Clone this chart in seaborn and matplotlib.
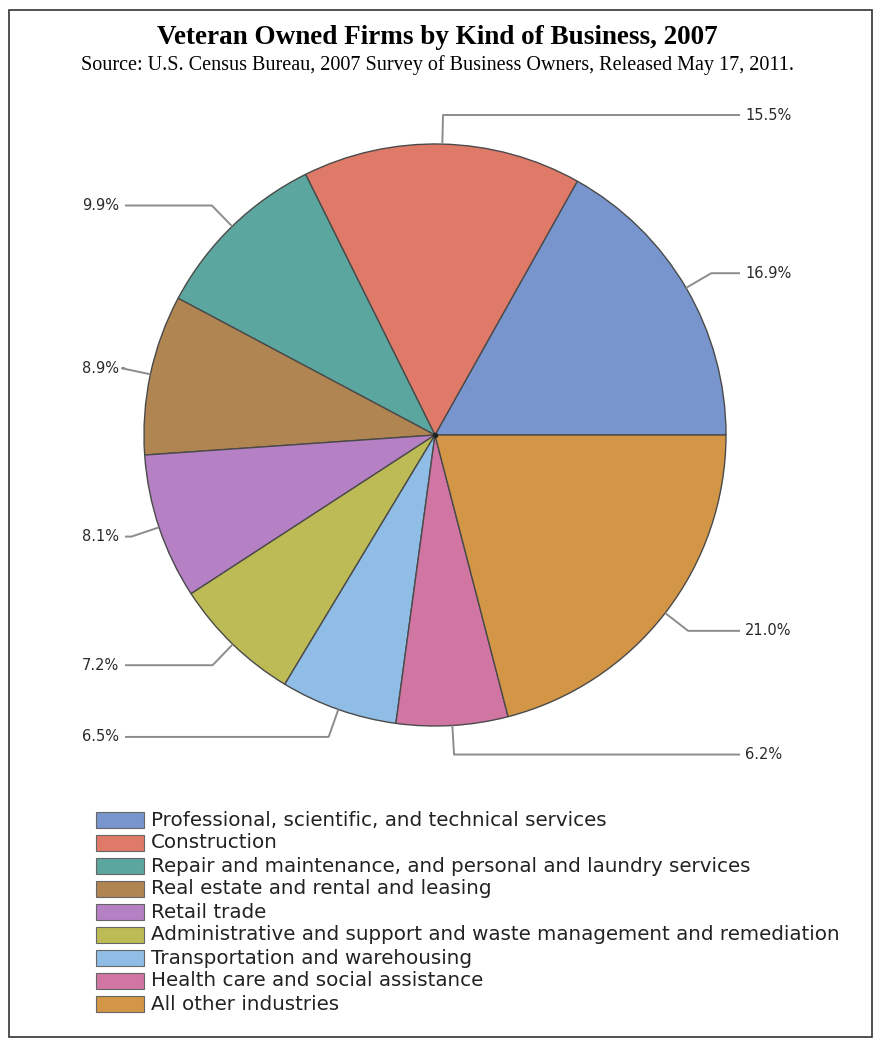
import numpy as np
import matplotlib
matplotlib.use("Agg")
import matplotlib.pyplot as plt
import seaborn as sns
from matplotlib.patches import Rectangle

# data
industries = [
    "Professional, scientific, and technical services",
    "Construction",
    "Repair and maintenance, and personal and laundry services",
    "Real estate and rental and leasing",
    "Retail trade",
    "Administrative and support and waste management and remediation",
    "Transportation and warehousing",
    "Health care and social assistance",
    "All other industries",
]
shares = [16.9, 15.5, 9.9, 8.9, 8.1, 7.2, 6.5, 6.2, 21.0]
slice_colors = ["#7895CE", "#E07A68", "#5BA69E", "#B08552", "#B580C4",
                "#BDBB55", "#90BDE6", "#D175A3", "#D39546"]

title = "Veteran Owned Firms by Kind of Business, 2007"
subtitle = "Source: U.S. Census Bureau, 2007 Survey of Business Owners, Released May 17, 2011."

sns.set_theme(style="white")
plt.rcParams["font.family"] = ["DejaVu Sans"]

W, H = 875, 1040
fig = plt.figure(figsize=(W / 100, H / 100), dpi=100)
ax = fig.add_axes([0, 0, 1, 1])
ax.set_xlim(0, W)
ax.set_ylim(0, H)
ax.set_aspect("equal")
ax.axis("off")

# frame round the whole picture
fig.patches.append(Rectangle((9 / W, 3 / H), 863 / W, 1027 / H, transform=fig.transFigure,
                             fill=False, edgecolor="#333333", linewidth=1.2))

cx, cy, r = 435, H - 435, 291
palette = sns.color_palette(slice_colors)
wedges, _ = ax.pie(shares, colors=palette, center=(cx, cy), radius=r,
                   startangle=0, counterclock=True,
                   wedgeprops=dict(edgecolor="#4a4a4a", linewidth=1.0))
ax.set_xlim(0, W)
ax.set_ylim(0, H)
ax.plot(cx, cy, "o", color="#222222", markersize=3)

# leader lines with labels
for w, v in zip(wedges, shares):
    ang = np.deg2rad((w.theta1 + w.theta2) / 2)
    x0, y0 = cx + r * np.cos(ang), cy + r * np.sin(ang)
    x1, y1 = cx + r * 1.1 * np.cos(ang), cy + r * 1.1 * np.sin(ang)
    if np.cos(ang) >= 0:
        xe, ha, xt = 740, "left", 745
    else:
        xe, ha, xt = 125, "right", 119
    ax.plot([x0, x1, xe], [y0, y1, y1], color="#8c8c8c", linewidth=1.4,
            solid_capstyle="butt")
    ax.text(xt, y1, f"{v:.1f}%", ha=ha, va="center", fontsize=10.5, color="#2a2a2a")

fig.text(0.5, 1 - 37 / H, title, ha="center", va="center", color="black",
         family="Liberation Serif", fontweight="bold", fontsize=19.5)
fig.text(0.5, 1 - 65 / H, subtitle, ha="center", va="center", color="black",
         family="Liberation Serif", fontsize=14.5)

# legend
for i, (name, c) in enumerate(zip(industries, palette)):
    yy = H - (820 + i * 23)
    ax.add_patch(Rectangle((96, yy - 8), 48, 16, facecolor=c,
                           edgecolor="#666666", linewidth=0.8))
    ax.text(151, yy, name, ha="left", va="center", fontsize=14.3, color="#222222")

fig.savefig("out.png", dpi=100)
